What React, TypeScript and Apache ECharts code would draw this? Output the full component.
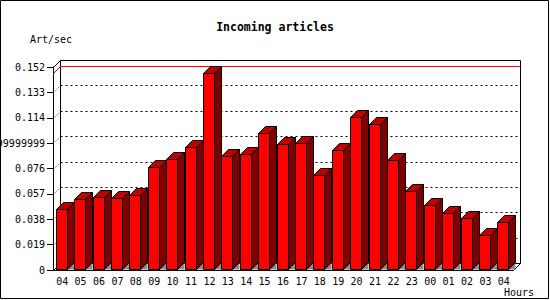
import React, { useEffect, useRef } from "react";
import * as echarts from "echarts";

const hours = ["04", "05", "06", "07", "08", "09", "10", "11", "12", "13", "14", "15", "16", "17", "18", "19", "20", "21", "22", "23", "00", "01", "02", "03", "04"];
const artPerSec = [0.0455, 0.0529, 0.0547, 0.0537, 0.0559, 0.0769, 0.0829, 0.0919, 0.1473, 0.0851, 0.0866, 0.1024, 0.0941, 0.0949, 0.0709, 0.0899, 0.1143, 0.1091, 0.0824, 0.0589, 0.0484, 0.0424, 0.0387, 0.026, 0.0357];
const yTickValues = [0, 0.019, 0.038, 0.057, 0.076, 0.095, 0.114, 0.133, 0.152];
const yTickLabels = ["0", "0.019", "0.038", "0.057", "0.076", "0.0949999999999999", "0.114", "0.133", "0.152"];
const titleText = "Incoming articles";
const yName = "Art/sec";
const xName = "Hours";

const D = 7;
const MONO = "DejaVu Sans Mono";

export default function App() {
  const ref = useRef<HTMLDivElement>(null);
  useEffect(() => {
    if (!ref.current) return;
    const chart = echarts.init(ref.current, undefined, { renderer: "svg" });
    const maxVal = Math.max(...artPerSec);
    const px = (v: number) => Math.round(v) + 0.5;

    const option: any = {
      animation: false,
      backgroundColor: "#fff",
      title: {
        text: titleText,
        left: "center",
        top: 21,
        padding: 0,
        textStyle: { fontFamily: MONO, fontWeight: "bold", fontSize: 11.5, color: "#000" },
      },
      grid: { left: 53, right: 37, top: 67, bottom: 30, containLabel: false, outerBoundsMode: "none" },
      xAxis: {
        type: "category",
        data: hours,
        axisLine: { lineStyle: { color: "#000", width: 1 } },
        axisTick: { length: 4, lineStyle: { color: "#000" } },
        axisLabel: { fontFamily: MONO, fontSize: 10, color: "#000", margin: 6, interval: 0 },
        splitLine: { show: false },
      },
      yAxis: {
        type: "value",
        min: 0,
        max: 0.152,
        interval: 0.019,
        axisLine: { show: true, lineStyle: { color: "#000", width: 1 } },
        axisTick: { show: true, length: 6, lineStyle: { color: "#000" } },
        axisLabel: {
          fontFamily: MONO,
          fontSize: 10,
          color: "#000",
          margin: 8,
          formatter: (_v: number, i: number) => yTickLabels[i] ?? "",
        },
        splitLine: { show: false },
      },
      graphic: [
        {
          type: "rect",
          silent: true,
          z: 100,
          shape: { x: 0.5, y: 0.5, width: 548, height: 298 },
          style: { fill: "none", stroke: "#000", lineWidth: 1 },
        },
        {
          type: "text",
          x: 30,
          y: 39,
          style: { text: yName, font: `10px "${MONO}"`, fill: "#000", verticalAlign: "middle", align: "left" },
        },
        {
          type: "text",
          x: 534,
          y: 292,
          style: { text: xName, font: `10px "${MONO}"`, fill: "#000", verticalAlign: "middle", align: "right" },
        },
      ],
      series: [
        {
          type: "custom",
          name: "wall",
          data: [[0, 0]],
          encode: { x: 0, y: 1 },
          silent: true,
          z: 1,
          renderItem: (params: any, api: any) => {
            const cs = params.coordSys;
            const l = px(cs.x);
            const r = px(cs.x + cs.width);
            const t = px(cs.y);
            const b = px(cs.y + cs.height);
            const black = { stroke: "#000", lineWidth: 1, fill: "none" };
            return {
              type: "group",
              children: [
                { type: "rect", shape: { x: l + D, y: t - D, width: r - l, height: b - t }, style: { fill: "#fff", stroke: "#000", lineWidth: 1 } },
                { type: "line", shape: { x1: l, y1: t, x2: l + D, y2: t - D }, style: black },
                { type: "line", shape: { x1: l, y1: b, x2: l + D, y2: b - D }, style: black },
                { type: "line", shape: { x1: r, y1: b, x2: r + D, y2: b - D }, style: black },
              ],
            };
          },
        },
        {
          type: "custom",
          name: "grid",
          data: yTickValues.slice(1, yTickValues.length - 1).map((v) => [0, v]),
          encode: { x: 0, y: 1 },
          silent: true,
          z: 2,
          renderItem: (params: any, api: any) => {
            const cs = params.coordSys;
            const p = api.coord([0, api.value(1)]);
            const y = px(p[1]);
            const l = px(cs.x);
            const r = px(cs.x + cs.width);
            const dotted = { stroke: "#000", lineWidth: 1, lineDash: [2, 3], fill: "none" };
            return {
              type: "group",
              children: [
                { type: "line", shape: { x1: l + D, y1: y - D, x2: r + D, y2: y - D }, style: dotted },
                { type: "line", shape: { x1: l, y1: y, x2: l + D, y2: y - D }, style: { stroke: "#000", lineWidth: 1, lineDash: [1, 2] } },
              ],
            };
          },
        },
        {
          type: "custom",
          name: "max",
          data: [[0, maxVal]],
          encode: { x: 0, y: 1 },
          silent: true,
          z: 3,
          renderItem: (params: any, api: any) => {
            const cs = params.coordSys;
            const p = api.coord([0, api.value(1)]);
            const y = px(p[1]);
            const l = px(cs.x);
            const r = px(cs.x + cs.width);
            const red = { stroke: "#ff0000", lineWidth: 1, fill: "none" };
            return {
              type: "group",
              children: [
                { type: "line", shape: { x1: l + D, y1: y - D, x2: r + D, y2: y - D }, style: red },
                { type: "line", shape: { x1: l, y1: y, x2: l + D, y2: y - D }, style: red },
              ],
            };
          },
        },
        {
          type: "custom",
          name: "Art/sec",
          data: artPerSec.map((v, i) => [i, v]),
          encode: { x: 0, y: 1 },
          z: 4,
          renderItem: (params: any, api: any) => {
            const idx = api.value(0);
            const v = api.value(1);
            const base = api.coord([idx, 0]);
            const top = api.coord([idx, v]);
            const bw = 11;
            const x0 = px(base[0] - 6.5);
            const x1 = x0 + bw;
            const yb = px(base[1]) - 1;
            const yt = px(top[1]);
            const edge = { stroke: "#000", lineWidth: 1 };
            return {
              type: "group",
              children: [
                { type: "polygon", shape: { points: [[x1, yb], [x1 + D, yb - D], [x1 + D, yb]] }, style: { fill: "#8c8c8c" } },
                { type: "polygon", shape: { points: [[x1, yt], [x1 + D, yt - D], [x1 + D, yb - D], [x1, yb]] }, style: { fill: "#800000", ...edge } },
                { type: "polygon", shape: { points: [[x0, yt], [x1, yt], [x1 + D, yt - D], [x0 + D, yt - D]] }, style: { fill: "#c00000", ...edge } },
                { type: "rect", shape: { x: x0, y: yt, width: bw, height: yb - yt }, style: { fill: "#ff0000", ...edge } },
              ],
            };
          },
        },
      ],
    };
    chart.setOption(option);
    return () => chart.dispose();
  }, []);
  return <div ref={ref} style={{ position: "absolute", left: 0, top: 0, width: 550, height: 300, background: "#fff" }} />;
}
